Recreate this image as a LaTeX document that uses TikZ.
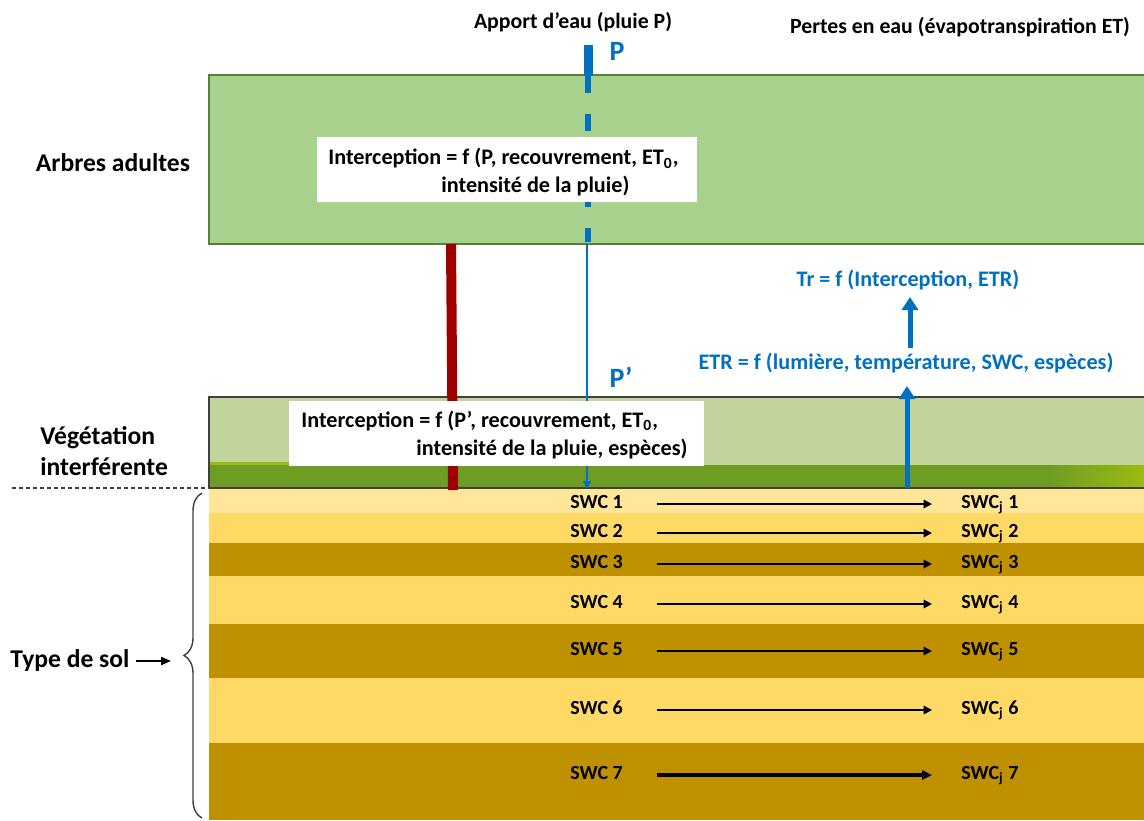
\documentclass[tikz,border=0pt]{standalone}
\usepackage{fontspec}
\setmainfont{Carlito}
\usetikzlibrary{arrows.meta,decorations.pathreplacing,calc}
\definecolor{treegreen}{HTML}{A9D18E}
\definecolor{treeedge}{HTML}{548235}
\definecolor{veglight}{HTML}{C0D49C}
\definecolor{vegdark}{HTML}{6F9C22}
\definecolor{vegbright}{HTML}{9BBB11}
\definecolor{soilA}{HTML}{FFE699}
\definecolor{soilB}{HTML}{FFD966}
\definecolor{soilC}{HTML}{BF9000}
\definecolor{bluew}{HTML}{0070C0}
\definecolor{redbar}{HTML}{9E0000}
\definecolor{edgegray}{HTML}{404040}
\tikzset{
  lbl/.style={font=\fontsize{12.8}{15.5}\selectfont\bfseries, inner sep=0pt},
  ttl/.style={font=\fontsize{10.9}{13}\selectfont\bfseries, inner sep=0pt},
  bigp/.style={text=bluew, font=\fontsize{14}{16}\selectfont\bfseries, inner sep=0pt},
  whitebox/.style={fill=white, draw=none, inner sep=0pt, anchor=north west},
  itext/.style={font=\fontsize{11.1}{14}\selectfont\bfseries, align=left, inner sep=0pt, anchor=west},
  bluet/.style={text=bluew, font=\fontsize{11.1}{13}\selectfont\bfseries, inner sep=0pt},
  swc/.style={font=\fontsize{10}{12}\selectfont\bfseries, inner sep=0pt, anchor=mid west},
  swcarrow/.style={-{Triangle[length=4.2pt,width=4.2pt]}, line width=1pt, shorten <=17pt, shorten >=14.5pt},
  bigarrow/.style={draw=bluew, line width=2.5pt, -{Triangle[length=6.5pt,width=8pt]}},
}
\begin{document}
\begin{tikzpicture}[x=0.5pt,y=-0.5pt]
\useasboundingbox (0,0) rectangle (1144,820);
% ---------- tree layer
\fill[treegreen] (209,75) rectangle (1144,244);
\draw[treeedge, line width=1pt] (1144,75) -- (209,75) -- (209,244) -- (1144,244);
% ---------- vegetation layer
\fill[veglight] (209,397) rectangle (1144,465);
\fill[vegbright] (209,462) rectangle (289,466);
\fill[vegdark] (209,465) rectangle (1050,488);
\shade[left color=vegdark, right color=vegbright] (1049,465) rectangle (1144,488);
\draw[edgegray, line width=0.8pt] (1144,397) -- (209,397) -- (209,488) -- (1144,488);
% ---------- soil layers
\fill[soilA] (209,488.5) rectangle (1144,513);
\fill[soilB] (209,513) rectangle (1144,543);
\fill[soilC] (209,543) rectangle (1144,576);
\fill[soilB] (209,576) rectangle (1144,624);
\fill[soilC] (209,624) rectangle (1144,678);
\fill[soilB] (209,678) rectangle (1144,743);
\fill[soilC] (209,743) rectangle (1144,820);
\draw[edgegray, line width=0.8pt] (209,397) -- (209,488);
% ---------- rain
\coordinate (ptop) at (588,45);
\coordinate (pcan) at (588,76);
\coordinate (pdash) at (588,93);
\coordinate (pend) at (588,242);
\coordinate (pin) at (587,244);
\coordinate (pout) at (587,489);
\draw[bluew, line width=4.5pt] (ptop) -- (pcan);
\draw[bluew, line width=3pt] (pcan) -- (pdash);
\draw[bluew, line width=3pt, dash pattern=on 8.5pt off 10.5pt, dash phase=8.5pt] (pdash) -- (pend);
\draw[bluew, line width=0.75pt, -{Triangle[length=4pt,width=4pt]}] (pin) -- (pout);
% ---------- red bar
\coordinate (rtop) at (451,244);
\coordinate (rbot) at (453,490);
\draw[redbar, line width=5pt] (rtop) -- (rbot);
% ---------- interception boxes
\node[whitebox, minimum width=190pt, minimum height=32.5pt] (ib1) at (317,137) {};
\node[itext] (it1) at ([xshift=5.5pt,yshift=-1.2pt]ib1.west)
  {Interception = f (P, recouvrement, ET\textsubscript{0},\\\hspace*{56.5pt}intensité de la pluie)};
\node[whitebox, minimum width=207.5pt, minimum height=32.5pt] (ib2) at (289,401) {};
\node[itext] (it2) at ([xshift=6pt,yshift=-0.5pt]ib2.west)
  {Interception = f (P’, recouvrement, ET\textsubscript{0},\\\hspace*{57.5pt}intensité de la pluie, espèces)};
% ---------- titles
\node[ttl] (apport) at (573,22) {Apport d’eau (pluie P)};
\node[ttl] (pertes) at (960,27) {Pertes en eau (évapotranspiration ET)};
\node[bigp] (plab) at (617,51) {P};
\node[bigp] (pplab) at (621,377) {P’};
% ---------- ET
\node[bluet] (tr) at (908,280) {Tr = f (Interception, ETR)};
\node[bluet] (etr) at (906,363) {ETR = f (lumière, température, SWC, espèces)};
\coordinate (etrbase) at (907,488);
\coordinate (etrtip) at (907,386);
\coordinate (trbase) at (910,348);
\coordinate (trtip) at (910,297);
\draw[bigarrow] (etrbase) -- (etrtip);
\draw[bigarrow] (trbase) -- (trtip);
% ---------- left labels
\node[lbl] (arbres) at (113,163) {Arbres adultes};
\node[lbl, align=left, anchor=west] (veg) at (40,451) {Végétation\\interférente};
\node[lbl, anchor=west] (sol) at (10,661) {Type de sol};
\coordinate (bracetip) at (171,661);
\draw[line width=1pt, -{Triangle[length=5pt,width=4pt]}] ([xshift=3pt]sol.east) -- (bracetip);
\draw[edgegray, line width=0.7pt, decorate, decoration={brace, amplitude=9pt}] (202,818) -- (202,493);
\draw[edgegray, line width=0.6pt, dash pattern=on 2pt off 1.5pt] (12,488) -- (209,488);
% ---------- SWC
\foreach \i/\y in {1/504,2/533,3/564,4/604,5/651,6/710,7/775}{
  \node[swc] (s\i) at (570,\y) {SWC \i};
  \node[swc] (j\i) at (961,\y) {SWC\textsubscript{j} \i};
}
\foreach \i in {1,...,6}{ \draw[swcarrow] (s\i.mid east) -- (j\i.mid west); }
\draw[swcarrow, line width=1.8pt, -{Triangle[length=5pt,width=4.5pt]}] (s7.mid east) -- (j7.mid west);
\end{tikzpicture}
\end{document}
